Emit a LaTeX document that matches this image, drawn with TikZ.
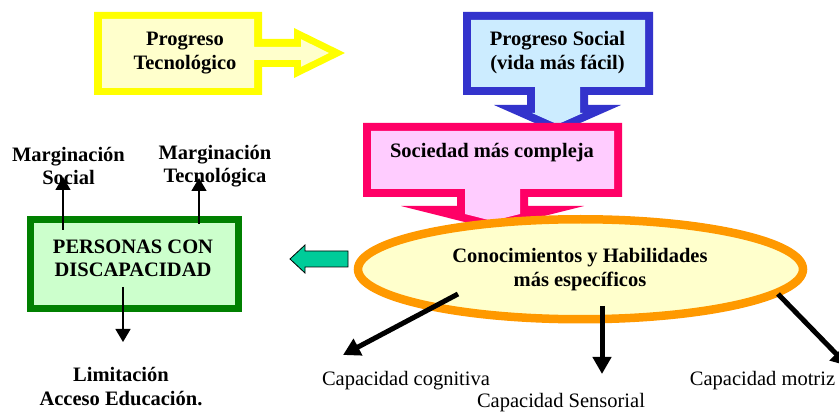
\documentclass[tikz,border=0pt]{standalone}
\usepackage{fontspec}
\setmainfont{Liberation Serif}
\usetikzlibrary{arrows.meta,shapes.geometric}
\definecolor{ylw}{HTML}{FFFF00}
\definecolor{ylwfill}{HTML}{FFFFCC}
\definecolor{blu}{HTML}{3333CC}
\definecolor{blufill}{HTML}{CCECFF}
\definecolor{pnk}{HTML}{FF0066}
\definecolor{pnkfill}{HTML}{FFCCFF}
\definecolor{org}{HTML}{FF9900}
\definecolor{grn}{HTML}{008000}
\definecolor{grnfill}{HTML}{CCFFCC}
\definecolor{teal}{HTML}{00CC99}
\tikzset{
  lbl/.style={font=\fontsize{20.5}{23.5}\selectfont\bfseries, align=center, inner sep=0pt},
  plainlbl/.style={font=\fontsize{20.5}{23.5}\selectfont, align=center, inner sep=0pt},
  thinarr/.style={line width=1.4pt, -{Triangle[length=13pt,width=15pt]}},
  thickarr/.style={line width=5pt, -{Triangle[length=17pt,width=18pt]}},
}
\begin{document}
\begin{tikzpicture}[x=1pt,y=-1pt]
\useasboundingbox (0,0) rectangle (839,414);
\fill[white] (0,0) rectangle (839,414);

% Yellow block arrow
\fill[ylw] (94,12) -- (262,12) -- (262,39) -- (294,39) -- (294,28) -- (345,53) -- (294,78) -- (294,67) -- (262,67) -- (262,95) -- (94,95) -- cycle;
\fill[ylwfill] (102,19) -- (254,19) -- (254,47) -- (301,47) -- (301,39.2) -- (329,53) -- (301,66.8) -- (301,60) -- (254,60) -- (254,88) -- (102,88) -- cycle;
\node[lbl] (tecno) at (185,53) {Progreso\\Tecnológico};

% Blue block arrow
\fill[blu] (463,12) -- (653,12) -- (653,95) -- (588,95) -- (588,105) -- (621,105) -- (557.5,133) -- (494,105) -- (527,105) -- (527,95) -- (463,95) -- cycle;
\fill[blufill] (471,20) -- (645,20) -- (645,87) -- (580,87) -- (580,113) -- (583,113) -- (557.5,124.3) -- (532,113) -- (535,113) -- (535,87) -- (471,87) -- cycle;
\node[lbl] (social) at (557.5,52.5) {Progreso Social\\(vida más fácil)};

% Pink block arrow
\fill[pnk] (363,123) -- (622,123) -- (622,197) -- (528,197) -- (528,206) -- (584,206) -- (492.5,229) -- (401,206) -- (457,206) -- (457,197) -- (363,197) -- cycle;
\fill[pnkfill] (371,131) -- (614,131) -- (614,189) -- (520,189) -- (520,214) -- (492.5,221) -- (465,214) -- (465,189) -- (371,189) -- cycle;
\node[lbl] (socied) at (492,153) {Sociedad más compleja};

% Ellipse
\node[ellipse, draw=org, line width=8.5pt, fill=ylwfill, minimum width=445pt, minimum height=100pt, inner sep=0pt] (ell) at (580.5,269.25) {};
\node[lbl] (conoc) at (580,269.5) {Conocimientos y Habilidades\\más específicos};

% Teal arrow
\draw[black, line width=0.8pt, fill=teal] (290,259) -- (305,245) -- (305,251) -- (348,251) -- (348,267) -- (305,267) -- (305,273) -- cycle;

% Green box
\node[draw=grn, line width=7pt, fill=grnfill, minimum width=208pt, minimum height=89pt, inner sep=0pt] (pcd) at (134.5,264) {};
\node[lbl] (pcdtext) at (133,258.5) {PERSONAS CON\\DISCAPACIDAD};

% Labels
\node[lbl] (msoc) at (68.5,166) {Marginación\\Social};
\node[lbl] (mtec) at (215,166) {Marginación\\Tecnológica};
\node[lbl] (limit) at (121,386.5) {Limitación\\Acceso Educación.};
\node[plainlbl] (ccog) at (406,381) {Capacidad cognitiva};
\node[plainlbl] (csens) at (561,403) {Capacidad Sensorial};
\node[plainlbl] (cmot) at (762.5,381) {Capacidad motriz};

% Thin arrows
\coordinate (ms1) at (63,230);
\coordinate (ms2) at (63,177);
\coordinate (mt1) at (199,224);
\coordinate (mt2) at (199,178);
\coordinate (li1) at (123,287);
\coordinate (li2) at (123,342);
\draw[thinarr] (ms1) -- (ms2);
\draw[thinarr] (mt1) -- (mt2);
\draw[thinarr] (li1) -- (li2);

% Thick arrows
\coordinate (cg1) at (458,294);
\coordinate (cg2) at (343,355);
\coordinate (cs1) at (602,306);
\coordinate (cs2) at (602,374);
\coordinate (cm1) at (778,294);
\coordinate (cm2) at (848,366);
\draw[thickarr] (cg1) -- (cg2);
\draw[thickarr] (cs1) -- (cs2);
\draw[thickarr] (cm1) -- (cm2);
\end{tikzpicture}
\end{document}
